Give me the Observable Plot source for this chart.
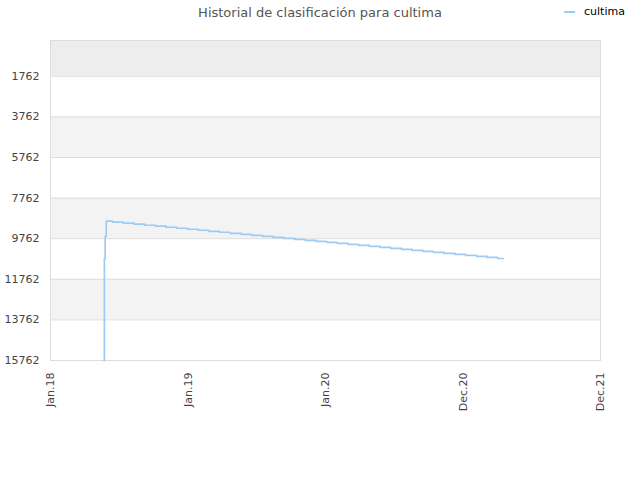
<!DOCTYPE html>
<html>
<head>
<meta charset="utf-8">
<script src="https://cdn.jsdelivr.net/npm/d3@7"></script>
<script src="https://cdn.jsdelivr.net/npm/@observablehq/plot@0.6"></script>
<style>
  html, body { margin: 0; padding: 0; background: #fff; }
  #wrap { position: relative; width: 640px; height: 480px; font-family: "DejaVu Sans", sans-serif; }
  #title { position: absolute; left: 0; top: 5px; width: 640px; text-align: center; font-size: 13px; color: #555; }
  #legend { position: absolute; left: 564px; top: 5px; font-size: 11px; color: #000; display: flex; align-items: center; }
  #legend .sw { width: 11px; height: 2px; background: #9ecbf4; margin-right: 9px; }
  #chart { position: absolute; left: 0; top: 28px; }
</style>
</head>
<body>
<div id="wrap">
  <div id="title">Historial de clasificación para cultima</div>
  <div id="legend"><span class="sw"></span><span>cultima</span></div>
  <div id="chart"></div>
</div>
<script>
const seriesName = "cultima";
const dates = [
  "2018-05-23","2018-05-24","2018-05-26","2018-05-29",
  "2018-06-15","2018-07-13","2018-08-11","2018-09-08","2018-10-07","2018-11-04","2018-12-02","2018-12-31",
  "2019-01-28","2019-02-26","2019-03-26","2019-04-23","2019-05-22","2019-06-19","2019-07-18","2019-08-15",
  "2019-09-12","2019-10-11","2019-11-08","2019-12-07","2020-01-04","2020-02-01","2020-03-01","2020-03-29",
  "2020-04-27","2020-05-25","2020-06-22","2020-07-21","2020-08-18","2020-09-16","2020-10-14","2020-11-11",
  "2020-12-10","2021-01-07","2021-02-05","2021-03-05","2021-04-02","2021-04-17"
];
const ranks = [
  15762, 10739, 9655, 8901,
  8950, 9000, 9049, 9099, 9148, 9198, 9248, 9297,
  9347, 9397, 9446, 9496, 9546, 9595, 9645, 9694,
  9744, 9794, 9843, 9893, 9943, 9992, 10042, 10092,
  10141, 10191, 10240, 10290, 10340, 10389, 10439, 10489,
  10538, 10588, 10638, 10687, 10737, 10737
];
const yTicks = [1762, 3762, 5762, 7762, 9762, 11762, 13762, 15762];
const yDomain = [0, 15762];
const xTickDates = ["2018-01-01", "2019-01-01", "2020-01-01", "2020-12-31", "2021-12-31"];
const xTickLabels = ["Jan.18", "Jan.19", "Jan.20", "Dec.20", "Dec.21"];

const parse = d3.utcParse("%Y-%m-%d");
const data = dates.map((d, i) => ({date: parse(d), rank: ranks[i]}));
const xTicks = xTickDates.map(parse);
const labelOf = new Map(xTicks.map((d, i) => [+d, xTickLabels[i]]));

// shaded bands between ticks (alternating), top band darker
const bandEdges = [yDomain[0], ...yTicks];
const bands = [];
for (let i = 0; i < bandEdges.length - 1; i++) {
  if (i % 2 === 0) bands.push({y1: bandEdges[i], y2: bandEdges[i + 1], fill: i === 0 ? "#ededed" : "#f3f3f3"});
}

const chart = Plot.plot({
  width: 640,
  height: 452,
  marginTop: 12,
  marginLeft: 50,
  marginRight: 40,
  marginBottom: 120,
  style: {fontFamily: "DejaVu Sans, sans-serif", fontSize: "11px", color: "#444", background: "#fff"},
  x: {type: "utc", domain: [xTicks[0], xTicks[xTicks.length - 1]]},
  y: {domain: yDomain, reverse: true},
  marks: [
    Plot.rectY(bands, {x1: xTicks[0], x2: xTicks[xTicks.length - 1], y1: "y1", y2: "y2", fill: d => d.fill}),
    Plot.ruleY(yTicks, {stroke: "#dddddd", strokeWidth: 1}),
    Plot.frame({stroke: "#dddddd"}),
    Plot.axisY(yTicks, {tickSize: 0, tickPadding: 11, tickFormat: d => String(d), label: null, fill: "#444"}),
    Plot.axisX(xTicks, {tickSize: 0, tickPadding: 12, tickRotate: -90, tickFormat: d => labelOf.get(+d), label: null, fill: "#444"}),
    Plot.line(data, {x: "date", y: "rank", curve: "step-after", stroke: "#9ecbf4", strokeWidth: 1.7})
  ]
});
chart.setAttribute("fill", "#444");
document.getElementById("chart").appendChild(chart);
</script>
</body>
</html>
